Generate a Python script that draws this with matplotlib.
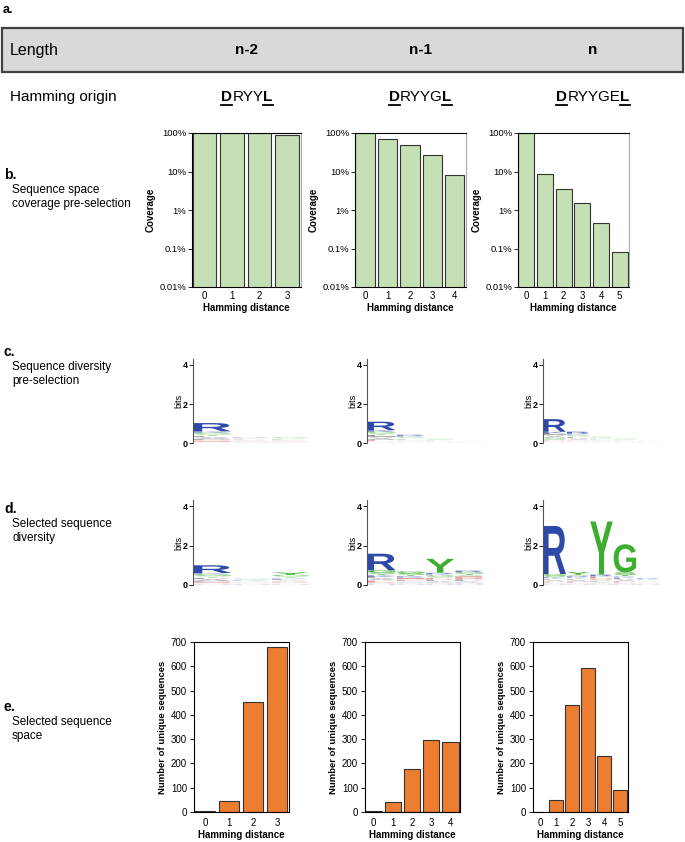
import matplotlib
matplotlib.use("Agg")
import matplotlib.pyplot as plt
from matplotlib.patches import Rectangle, PathPatch
from matplotlib.lines import Line2D
from matplotlib.textpath import TextPath
from matplotlib.font_manager import FontProperties
import matplotlib.transforms as mtrans

plt.rcParams['font.family'] = ['Liberation Sans', 'DejaVu Sans']

# ---- data ----
lengths = ["n-2", "n-1", "n"]
origins = ["DRYYL", "DRYYGL", "DRYYGEL"]

coverage_n2 = [100, 100, 100, 90]
coverage_n1 = [100, 70, 50, 26.5, 7.9]
coverage_n = [100, 8.5, 3.6, 1.5, 0.45, 0.079]

unique_n2 = [3, 47, 453, 678]
unique_n1 = [3, 41, 178, 298, 289]
unique_n = [2, 51, 440, 591, 230, 92]

# sequence logos: each column is (letters bottom->top, heights in bits)
logo_pre_n2 = [
    ("WHNQEDPAVLTSGKR", [.02, .02, .02, .03, .04, .04, .05, .05, .05, .05, .05, .05, .07, .07, .42]),
    ("WHNQEDPAVLSGKR", [.02, .02, .02, .02, .02, .02, .02, .02, .02, .02, .02, .02, .03, .04]),
    ("WHNQEDPAVLKRSG", [.02, .02, .02, .02, .02, .02, .02, .02, .02, .02, .02, .02, .03, .05]),
]
logo_pre_n1 = [
    ("WHNQDEPAVILTSGKR", [.02, .02, .02, .02, .03, .04, .05, .05, .05, .05, .06, .05, .06, .07, .08, .43]),
    ("WHNQDEPAVLTSGKR", [.02, .02, .02, .02, .02, .02, .02, .02, .02, .03, .03, .03, .05, .05, .07]),
    ("WHNQDEPAVLKRTSG", [.015, .015, .015, .015, .015, .015, .015, .015, .015, .015, .015, .015, .015, .015, .04]),
    ("WHNQDEPAVLKRTSG", [.01, .01, .01, .01, .01, .01, .01, .01, .01, .01, .01, .01, .01, .01, .01]),
]
logo_pre_n = [
    ("WHNQDEPSGAVILKR", [.02, .02, .02, .02, .03, .03, .04, .06, .06, .05, .05, .05, .06, .08, .64]),
    ("WHNQDEPAVLTSGKR", [.02, .02, .02, .02, .03, .03, .03, .04, .04, .05, .04, .05, .05, .06, .09]),
    ("WHNQDEPAVLKRTSG", [.02, .02, .02, .02, .02, .02, .02, .02, .02, .02, .02, .02, .02, .03, .05]),
    ("WHNQDEPAVLKRTSG", [.015, .015, .015, .015, .015, .015, .015, .015, .015, .015, .015, .015, .015, .02, .04]),
    ("WHNQDEPAVLKRTSG", [.01, .01, .01, .01, .01, .01, .01, .01, .01, .01, .01, .01, .01, .01, .01]),
]
logo_sel_n2 = [
    ("WHNQEDPAVLTSGKR", [.02, .02, .02, .03, .04, .04, .05, .05, .05, .05, .05, .05, .08, .06, .39]),
    ("WHNQEDPAVLKRSG", [.02, .02, .02, .02, .02, .02, .02, .02, .02, .02, .04, .03, .03, .04]),
    ("WHNQEDPAVLKRTSGY", [.02, .02, .02, .02, .03, .04, .03, .03, .03, .04, .04, .04, .04, .05, .07, .12]),
]
logo_sel_n1 = [
    ("WHNQDEPAVLKTSGR", [.02, .03, .03, .03, .05, .06, .04, .05, .05, .05, .08, .06, .08, .12, .84]),
    ("WHNQPAVLDEKRTSG", [.02, .02, .03, .03, .03, .03, .03, .04, .05, .06, .05, .06, .07, .09, .09]),
    ("WHNQPAVLDESGKRY", [.02, .02, .03, .03, .03, .04, .04, .05, .05, .06, .06, .07, .05, .07, .71]),
    ("WHNQKAVLPDESTGR", [.02, .02, .03, .04, .04, .03, .04, .05, .05, .07, .05, .06, .07, .08, .08]),
]
logo_sel_n = [
    ("WHNQDEPAVLTKSGR", [.02, .02, .02, .03, .03, .03, .03, .04, .04, .04, .04, .06, .07, .09, 2.44]),
    ("WHNQDEPAVLTKRSY", [.02, .02, .02, .03, .03, .03, .04, .04, .04, .04, .04, .05, .06, .06, .14]),
    ("WHNQPAVLSGDEKRY", [.02, .02, .02, .02, .03, .03, .03, .03, .04, .04, .06, .06, .05, .08, 2.7]),
    ("WHNQDEPAVLKRTSG", [.02, .02, .02, .03, .03, .04, .04, .04, .05, .05, .05, .05, .08, .12, 1.43]),
    ("WHNQDEPAVLTSGKR", [.02, .02, .02, .02, .02, .02, .02, .02, .02, .02, .02, .02, .03, .04, .05]),
]

aa_colors = {}
for c in "KRH":
    aa_colors[c] = "#2f49a8"
for c in "DE":
    aa_colors[c] = "#e0312f"
for c in "GSTYC":
    aa_colors[c] = "#3dae2f"
for c in "NQ":
    aa_colors[c] = "#8a3fa0"
for c in "AVLIPWFM":
    aa_colors[c] = "#222222"

W, H = 685, 842
fig = plt.figure(figsize=(W / 100, H / 100), dpi=100)


def rect(l, t, r, b):
    return [l / W, 1 - b / H, (r - l) / W, (b - t) / H]


def ftext(x, y, s, **kw):
    return fig.text(x / W, 1 - y / H, s, va="center", **kw)


# ---- header ----
fig.add_artist(Rectangle((2 / W, 1 - 72 / H), 681 / W, 44 / H, transform=fig.transFigure,
                         facecolor="#d9d9d9", edgecolor="#404040", lw=1.6))
ftext(3, 10, "a.", fontsize=9, fontweight="bold")
ftext(10, 50, "Length", fontsize=11.5)
col_x = [247, 420, 593]
for x, s in zip(col_x, lengths):
    ftext(x, 50, s, fontsize=11, fontweight="bold", ha="center")
ftext(10, 97, "Hamming origin", fontsize=11)

renderer = fig.canvas.get_renderer()


def origin_label(xc, y, word):
    parts = [(word[0], "bold", True), (word[1:-1], "normal", False), (word[-1], "bold", True)]
    texts = []
    widths = []
    for s, w, u in parts:
        t = ftext(0, y, s, fontsize=11, fontweight=w)
        bb = t.get_window_extent(renderer)
        texts.append(t)
        widths.append(bb.width)
    x = xc - sum(widths) / 2
    for t, w, (s, fw, u) in zip(texts, widths, parts):
        t.set_x(x / W)
        if u:
            fig.add_artist(Line2D([x / W, (x + w) / W], [1 - (y + 7.5) / H] * 2,
                                  transform=fig.transFigure, color="black", lw=1.3))
        x += w


for x, s in zip(col_x, origins):
    origin_label(x, 97, s)

# ---- side labels ----
side = [("b.", 175, ["Sequence space", "coverage pre-selection"]),
        ("c.", 352, ["Sequence diversity", "pre-selection"]),
        ("d.", 509, ["Selected sequence", "diversity"]),
        ("e.", 707, ["Selected sequence", "space"])]
for lab, y, lines in side:
    ftext(4, y, lab, fontsize=10, fontweight="bold")
    for i, ln in enumerate(lines):
        ftext(12, y + 15 + i * 14, ln, fontsize=8.5)

# ---- coverage ----
cov_boxes = [(192, 133, 301, 287), (355, 133, 466, 287), (518, 133, 629, 287)]
for box, vals in zip(cov_boxes, [coverage_n2, coverage_n1, coverage_n]):
    ax = fig.add_axes(rect(*box))
    xs = list(range(len(vals)))
    ax.bar(xs, vals, width=0.86, color="#c5e0b4", edgecolor="#333333", lw=0.8)
    ax.set_yscale("log")
    ax.set_ylim(0.01, 100)
    ax.set_xlim(-0.45, len(vals) - 0.5)
    ax.set_yticks([0.01, 0.1, 1, 10, 100])
    ax.set_yticklabels(["0.01%", "0.1%", "1%", "10%", "100%"])
    ax.minorticks_off()
    ax.set_xticks(xs)
    ax.tick_params(axis="x", length=0, labelsize=7, pad=3)
    ax.tick_params(axis="y", length=3, width=0.6, labelsize=6.8, pad=1)
    ax.spines["right"].set_color("#aaaaaa")
    ax.set_ylabel("Coverage", fontsize=7, fontweight="bold", labelpad=3)
    ax.set_xlabel("Hamming distance", fontsize=7, fontweight="bold", labelpad=1)

# ---- logos ----
fp = FontProperties(family="Liberation Sans", weight="bold")


def draw_letter(ax, ch, x, y, w, h):
    tp = TextPath((0, 0), ch, size=1, prop=fp)
    bb = tp.get_extents()
    tr = mtrans.Affine2D().translate(-bb.x0, -bb.y0).scale(w / bb.width, h / bb.height).translate(x, y)
    # very squashed letters render pale, as in the original logo
    alpha = min(1.0, (h / 0.1) ** 1.5)
    ax.add_patch(PathPatch(tr.transform_path(tp), facecolor=aa_colors[ch], edgecolor="none",
                           lw=0, alpha=alpha))


def draw_logo(box, logo):
    ax = fig.add_axes(rect(*box))
    n = len(logo)
    for i, (letters, heights) in enumerate(logo):
        y = 0
        for ch, h in zip(letters, heights):
            draw_letter(ax, ch, i - 0.48, y, 0.96, h)
            y += h
    ax.set_xlim(-0.5, n - 0.5)
    ax.set_ylim(0, 4.32)
    for s in ["top", "right", "bottom"]:
        ax.spines[s].set_visible(False)
    ax.spines["left"].set_color("#555555")
    ax.set_xticks([])
    ax.set_yticks([0, 2, 4])
    ax.tick_params(axis="y", length=3, width=0.6, labelsize=6.5, pad=1)
    for lab in ax.get_yticklabels():
        lab.set_fontweight("bold")
    ax.set_ylabel("bits", fontsize=6.5, labelpad=-1)


logo_x = [193, 367, 543]
for x, lg in zip(logo_x, [logo_pre_n2, logo_pre_n1, logo_pre_n]):
    draw_logo((x, 358.5, x + 117, 443.3), lg)
for x, lg in zip(logo_x, [logo_sel_n2, logo_sel_n1, logo_sel_n]):
    draw_logo((x, 500, x + 117, 585), lg)

# ---- unique sequences ----
bar_boxes = [(194, 642, 289, 812), (365, 642, 460, 812), (533, 642, 628, 812)]
for box, vals in zip(bar_boxes, [unique_n2, unique_n1, unique_n]):
    ax = fig.add_axes(rect(*box))
    xs = list(range(len(vals)))
    ax.bar(xs, vals, width=0.86, color="#ed7d31", edgecolor="#333333", lw=0.8)
    ax.set_ylim(0, 700)
    ax.set_xlim(-0.45, len(vals) - 0.5)
    ax.set_yticks(range(0, 701, 100))
    ax.set_xticks(xs)
    ax.tick_params(axis="x", length=0, labelsize=7, pad=4)
    ax.tick_params(axis="y", length=3, width=0.6, labelsize=7, pad=2)
    ax.set_ylabel("Number of unique sequences", fontsize=6.8, fontweight="bold", labelpad=3)
    ax.set_xlabel("Hamming distance", fontsize=7, fontweight="bold", labelpad=2)

fig.savefig("out.png", dpi=100)
